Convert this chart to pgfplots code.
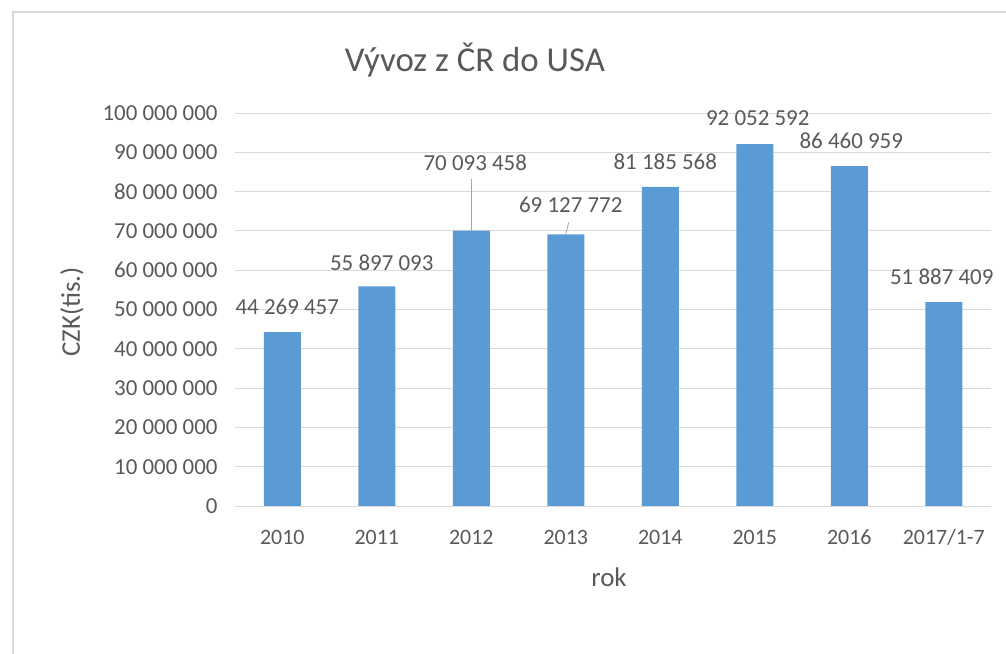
\documentclass[border=0pt]{standalone}
\usepackage{fontspec}
\setmainfont{Carlito}
\usepackage{pgfplots}
\usepackage{pgfplotstable}
\pgfplotsset{compat=1.18}

\definecolor{barblue}{HTML}{5B9BD5}
\definecolor{txt}{HTML}{595959}
\definecolor{gridc}{HTML}{D9D9D9}
\definecolor{leader}{HTML}{A6A6A6}

% x position, value, label text, label shifts (bp)
\pgfplotstableread[col sep=comma]{
x,y,label,dx,dy
0,44269457,44 269 457,5,25
1,55897093,55 897 093,5,24
2,70093458,70 093 458,4,68
3,69127772,69 127 772,5,29
4,81185568,81 185 568,5,25
5,92052592,92 052 592,3,26
6,86460959,86 460 959,2,25
7,51887409,51 887 409,-2,25
}\exportdata

\begin{document}
\begin{tikzpicture}[x=1bp,y=1bp]
\path[use as bounding box] (0,0) rectangle (1006,654);
% chart frame
\draw[gridc, line width=1.5bp] (13,-10) -- (13,642) -- (1020,642);

\begin{axis}[
    at={(235bp,148bp)}, anchor=south west,
    scale only axis,
    width=756bp, height=393bp,
    xmin=-0.5, xmax=7.5,
    ymin=0, ymax=100000000,
    enlargelimits=false,
    ybar, bar width=37bp,
    axis line style={draw=none},
    major tick length=0pt,
    ymajorgrids,
    grid style={gridc, line width=0.9bp},
    xtick={0,1,2,3,4,5,6,7},
    xticklabels={2010,2011,2012,2013,2014,2015,2016,2017/1-7},
    ytick={0,10000000,20000000,30000000,40000000,50000000,60000000,70000000,80000000,90000000,100000000},
    scaled y ticks=false,
    /pgf/number format/.cd, fixed, 1000 sep={\ }, assume math mode=true,
    /pgfplots/.cd,
    tick label style={text=txt},
    xticklabel style={font=\fontsize{22}{26}\selectfont, anchor=base, yshift=-39bp},
    yticklabel style={font=\fontsize{23}{27}\selectfont, xshift=-14bp},
    nodes near coords,
    point meta=explicit symbolic,
    visualization depends on={\thisrow{dx} \as \labdx},
    visualization depends on={\thisrow{dy} \as \labdy},
    every node near coord/.append style={
        font=\fontsize{23}{27}\selectfont, text=txt,
        anchor=center, xshift=\labdx bp, yshift=\labdy bp},
]
\addplot[fill=barblue, draw=none] table[x=x, y=y, meta=label] {\exportdata};
% leader lines of the displaced labels
\draw[leader, line width=0.8bp] (axis cs:2,70093458) -- ([yshift=52bp]axis cs:2,70093458);
\draw[leader, line width=0.8bp] (axis cs:3,69127772) -- ([xshift=3bp,yshift=12bp]axis cs:3,69127772);
\end{axis}

\node[text=txt, font=\fontsize{35}{40}\selectfont, anchor=base] at (475,582) {Vývoz z ČR do USA};
\node[text=txt, font=\fontsize{27}{30}\selectfont, rotate=90] at (72,342) {CZK(tis.)};
\node[text=txt, font=\fontsize{27}{30}\selectfont] at (609,77) {rok};
\end{tikzpicture}
\end{document}
